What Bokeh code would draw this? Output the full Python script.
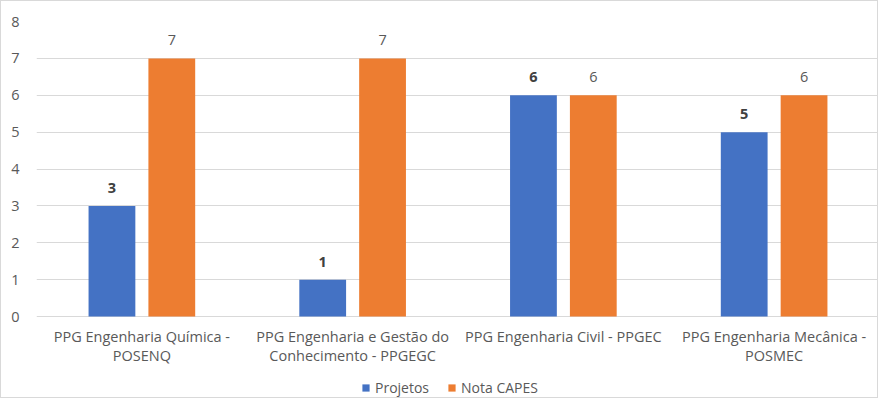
from bokeh.plotting import figure
from bokeh.models import (ColumnDataSource, FactorRange, LabelSet, Legend, LegendItem,
                          FixedTicker, Range1d)
from bokeh.core.properties import value
from bokeh.transform import dodge
from bokeh.embed import file_html
from bokeh.resources import INLINE

categories = [
    "PPG Engenharia Química -\nPOSENQ",
    "PPG Engenharia e Gestão do\nConhecimento - PPGEGC",
    "PPG Engenharia Civil - PPGEC",
    "PPG Engenharia Mecânica -\nPOSMEC",
]
projetos = [3, 1, 6, 5]
nota_capes = [7, 7, 6, 6]
series_names = ["Projetos", "Nota CAPES"]
y_ticks = [0, 1, 2, 3, 4, 5, 6, 7, 8]

BLUE = "#4472C4"
ORANGE = "#ED7D31"
FONT = "Open Sans"
FS = "14.5px"

line1 = [c.split("\n")[0] for c in categories]
line2 = [c.split("\n")[1] if "\n" in c else "" for c in categories]

src = ColumnDataSource(dict(
    cat=categories,
    zero=[0] * len(categories),
    line1=line1,
    line2=line2,
    projetos=projetos,
    nota=nota_capes,
    projetos_lbl=[str(v) for v in projetos],
    nota_lbl=[str(v) for v in nota_capes],
))

p = figure(
    width=878, height=398,
    x_range=FactorRange(*categories, range_padding=0, factor_padding=0),
    y_range=Range1d(-2.25, 8),
    output_backend="svg", toolbar_location=None,
    min_border_left=35, min_border_right=0, min_border_top=20, min_border_bottom=0,
    background_fill_color="white", border_fill_color="white",
)
p.styles = {"border": "1px solid #d9d9d9"}
p.outline_line_color = None

r1 = p.vbar(x=dodge("cat", -0.142, range=p.x_range), top="projetos", width=0.222,
            source=src, fill_color=BLUE, line_color=None)
r2 = p.vbar(x=dodge("cat", 0.142, range=p.x_range), top="nota", width=0.222,
            source=src, fill_color=ORANGE, line_color=None)

l1 = LabelSet(x=dodge("cat", -0.142, range=p.x_range), y="projetos", text="projetos_lbl",
              source=src, text_align="center", text_baseline="middle", y_offset=18,
              text_font=value(FONT), text_font_size=value(FS), text_font_style="bold",
              text_color="#404040")
l2 = LabelSet(x=dodge("cat", 0.142, range=p.x_range), y="nota", text="nota_lbl",
              source=src, text_align="center", text_baseline="middle", y_offset=18,
              text_font=value(FONT), text_font_size=value(FS), text_color="#595959")
cat1 = LabelSet(x="cat", y="zero", text="line1", source=src,
                text_align="center", text_baseline="middle", y_offset=-20,
                text_font=value(FONT), text_font_size=value(FS), text_color="#595959")
cat2 = LabelSet(x="cat", y="zero", text="line2", source=src,
                text_align="center", text_baseline="middle", y_offset=-39,
                text_font=value(FONT), text_font_size=value(FS), text_color="#595959")
for a in (l1, l2, cat1, cat2):
    p.add_layout(a)

p.xaxis.visible = False
p.xgrid.grid_line_color = None
p.ygrid.grid_line_color = "#d9d9d9"
p.ygrid.ticker = FixedTicker(ticks=y_ticks)
p.yaxis.ticker = FixedTicker(ticks=y_ticks)

p.yaxis.axis_line_color = None
p.yaxis.major_tick_line_color = None
p.yaxis.minor_tick_line_color = None
p.yaxis.major_tick_out = 0
p.yaxis.major_label_standoff = 17
p.yaxis.major_label_text_font = FONT
p.yaxis.major_label_text_font_size = FS
p.yaxis.major_label_text_color = "#595959"

legend = Legend(items=[LegendItem(label=series_names[0], renderers=[r1]),
                       LegendItem(label=series_names[1], renderers=[r2])],
                orientation="horizontal", location=(325, 2),
                label_text_font=FONT, label_text_font_size="14px", label_text_color="#595959",
                glyph_width=9, glyph_height=9, label_standoff=5, spacing=18,
                border_line_color=None, background_fill_alpha=0, padding=0, margin=0)
p.add_layout(legend)

open("out.html", "w").write(file_html(p, INLINE))
